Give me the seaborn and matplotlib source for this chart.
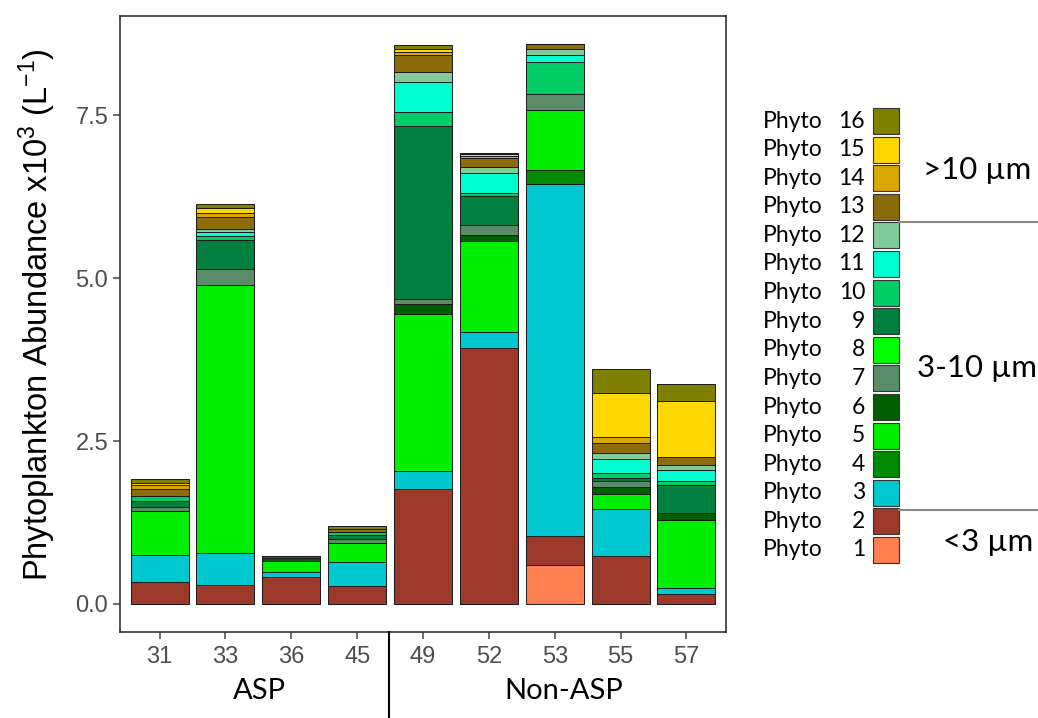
import matplotlib
matplotlib.use("Agg")
import matplotlib.pyplot as plt
from matplotlib.patches import Rectangle
import seaborn as sns
import pandas as pd

stations = ["31", "33", "36", "45", "49", "52", "53", "55", "57"]
phyto_names = [f"Phyto {i}" for i in range(1, 17)]
colors = ["#FF7F50", "#9B3A2A", "#00C8D0", "#008B00", "#00EE00", "#005F00",
          "#5B8C6A", "#00FF00", "#007F3F", "#00CD66", "#00FFD0", "#80CC99",
          "#8B6B0A", "#D8A800", "#FFD700", "#808000"]

# abundance x10^3 per L; rows = Phyto 1..16, columns = stations
p1  = [0.00, 0.00, 0.00, 0.00, 0.00, 0.00, 0.60, 0.00, 0.00]
p2  = [0.34, 0.29, 0.42, 0.28, 1.76, 3.93, 0.44, 0.74, 0.15]
p3  = [0.41, 0.49, 0.07, 0.37, 0.28, 0.24, 5.40, 0.72, 0.10]
p4  = [0.00, 0.00, 0.00, 0.00, 0.00, 0.00, 0.21, 0.00, 0.00]
p5  = [0.67, 4.12, 0.17, 0.28, 2.41, 1.40, 0.93, 0.23, 1.04]
p6  = [0.00, 0.00, 0.04, 0.00, 0.15, 0.09, 0.00, 0.10, 0.10]
p7  = [0.07, 0.24, 0.00, 0.07, 0.08, 0.15, 0.25, 0.10, 0.00]
p8  = [0.00, 0.00, 0.00, 0.00, 0.00, 0.00, 0.00, 0.00, 0.00]
p9  = [0.09, 0.45, 0.04, 0.06, 2.65, 0.45, 0.00, 0.04, 0.44]
p10 = [0.08, 0.05, 0.00, 0.05, 0.22, 0.04, 0.49, 0.08, 0.05]
p11 = [0.00, 0.07, 0.00, 0.00, 0.46, 0.31, 0.10, 0.21, 0.18]
p12 = [0.00, 0.05, 0.00, 0.00, 0.15, 0.10, 0.10, 0.09, 0.07]
p13 = [0.11, 0.18, 0.00, 0.04, 0.26, 0.13, 0.07, 0.16, 0.13]
p14 = [0.06, 0.06, 0.00, 0.00, 0.05, 0.03, 0.00, 0.09, 0.00]
p15 = [0.03, 0.07, 0.00, 0.00, 0.05, 0.03, 0.00, 0.68, 0.86]
p16 = [0.06, 0.06, 0.00, 0.04, 0.05, 0.02, 0.00, 0.36, 0.25]
values = [p1, p2, p3, p4, p5, p6, p7, p8, p9, p10, p11, p12, p13, p14, p15, p16]

yticks = [0.0, 2.5, 5.0, 7.5]
ytick_labels = ["0.0", "2.5", "5.0", "7.5"]
group_labels = ["ASP", "Non-ASP"]
size_labels = [">10 µm", "3-10 µm", "<3 µm"]

rows = []
for name, vals in zip(phyto_names, values):
    for st, v in zip(stations, vals):
        rows.append({"station": st, "phyto": name, "abundance": v})
df = pd.DataFrame(rows)

plt.rcParams["font.family"] = ["Liberation Sans", "DejaVu Sans"]
plt.rcParams["mathtext.fontset"] = "custom"
plt.rcParams["mathtext.rm"] = "Liberation Sans"
plt.rcParams["mathtext.it"] = "Liberation Sans"

W, H = 1038, 718
fig = plt.figure(figsize=(W / 100, H / 100), dpi=100)
ax = fig.add_axes([120 / W, 1 - 632 / H, (726 - 120) / W, (632 - 16) / H])

palette = dict(zip(phyto_names, colors))
sns.histplot(data=df, x="station", weights="abundance", hue="phyto",
             hue_order=phyto_names[::-1], multiple="stack", discrete=True,
             shrink=0.88, palette=palette, alpha=1, edgecolor="#1a1a1a",
             linewidth=0.7, legend=False, ax=ax)

ax.set_xlim(-0.6, 8.6)
ax.set_ylim(-0.43, 9.02)
ax.set_yticks(yticks)
ax.set_yticklabels(ytick_labels)
ax.set_xlabel("")
ax.set_ylabel("Phytoplankton Abundance x10$^\\mathregular{3}$ (L$^\\mathregular{-1}$)",
              fontsize=23.5)
ax.yaxis.set_label_coords(-0.103, 0.515)
ax.tick_params(axis="both", colors="#555555", labelsize=17, length=5, width=1.2,
               labelcolor="#4d4d4d")
ax.tick_params(axis="x", pad=5)
for s in ax.spines.values():
    s.set_color("#333333")
    s.set_linewidth(1.2)
ax.grid(False)
ax.set_facecolor("white")

# group labels and separator
fig.add_artist(plt.Line2D([389 / W, 389 / W], [0, 1 - 632 / H], color="black", lw=1.5))
fig.text(259 / W, 1 - 691 / H, group_labels[0], ha="center", va="center",
         fontsize=21, family="Lato")
fig.text(564 / W, 1 - 691 / H, group_labels[1], ha="center", va="center",
         fontsize=21, family="Lato")

# legend
key_x0, key_w, key_h, step = 873, 26, 26, 28.6
top0 = 108
for k in range(16):
    idx = 15 - k
    top = top0 + k * step
    fig.add_artist(Rectangle((key_x0 / W, 1 - (top + key_h) / H), key_w / W, key_h / H,
                             facecolor=colors[idx], edgecolor="#333333", lw=0.8))
    yc = 1 - (top + key_h / 2) / H
    fig.text(763 / W, yc, "Phyto", ha="left", va="center", fontsize=16.5, family="Lato")
    fig.text(865 / W, yc, str(idx + 1), ha="right", va="center", fontsize=16.5, family="Lato")

fig.add_artist(plt.Line2D([899 / W, 1.0], [1 - 222 / H, 1 - 222 / H], color="#888888", lw=1.5))
fig.add_artist(plt.Line2D([899 / W, 1.0], [1 - 510 / H, 1 - 510 / H], color="#888888", lw=1.5))
fig.text(977 / W, 1 - 170 / H, size_labels[0], ha="center", va="center", fontsize=22.5, family="Lato")
fig.text(977 / W, 1 - 368 / H, size_labels[1], ha="center", va="center", fontsize=22.5, family="Lato")
fig.text(988 / W, 1 - 542 / H, size_labels[2], ha="center", va="center", fontsize=22.5, family="Lato")

fig.savefig("out.png", dpi=100)
